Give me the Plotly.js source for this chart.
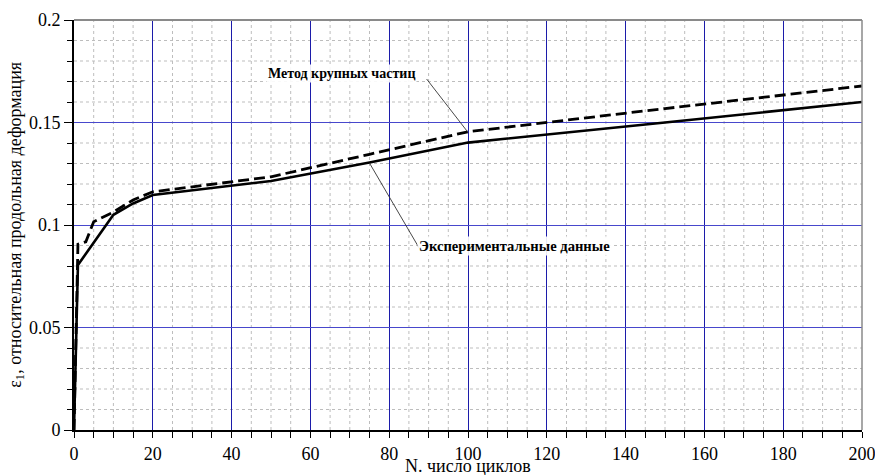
<!DOCTYPE html>
<html>
<head>
<meta charset="utf-8">
<script src="https://cdn.plot.ly/plotly-3.0.1.min.js"></script>
<style>html,body{margin:0;padding:0;background:#fff;}#chart{width:875px;height:475px;}</style>
</head>
<body>
<div id="chart"></div>
<script>
// Experimental data (solid)
const expN = [0, 1, 10, 15, 20, 50, 75, 100, 150, 200];
const expEps = [0, 0.0805, 0.105, 0.1105, 0.1146, 0.1215, 0.1305, 0.1402, 0.150, 0.160];
// Large particle method (dashed)
const lpmN = [0, 1, 3, 5, 10, 15, 20, 50, 75, 100, 150, 200];
const lpmEps = [0, 0.0906, 0.0918, 0.1016, 0.1063, 0.1122, 0.1162, 0.1235, 0.1345, 0.1455, 0.1568, 0.1678];

const xTickVals = [0, 20, 40, 60, 80, 100, 120, 140, 160, 180, 200];
const yTickVals = [0, 0.05, 0.1, 0.15, 0.2];

const labelLpm = 'Метод крупных частиц';
const labelExp = 'Экспериментальные данные';
const xTitle = 'N. число циклов';
const yTitle = 'ε<sub>1</sub>, относительная продольная деформация';

const serif = "'Liberation Serif', 'Times New Roman', 'DejaVu Serif', serif";

const traces = [
  {x: expN, y: expEps, type: 'scatter', mode: 'lines', line: {color: '#000', width: 2.6}, hoverinfo: 'skip'},
  {x: lpmN, y: lpmEps, type: 'scatter', mode: 'lines', line: {color: '#000', width: 2.8, dash: '11px,5px'}, hoverinfo: 'skip'}
];

// minor dotted grid drawn under the major grid
const minorGrid = [];
const xMinorStep = 5, yMinorStep = 0.01;
for (let i = 1; i * xMinorStep < 200; i++) {
  if (i % 4 === 0) continue;
  minorGrid.push({type: 'line', layer: 'below', xref: 'x', yref: 'paper', x0: i * xMinorStep, x1: i * xMinorStep, y0: 0, y1: 1,
    line: {color: '#bdbdbd', width: 1, dash: 'dot'}});
}
for (let j = 1; j < 20; j++) {
  if (j % 5 === 0) continue;
  const v = j * yMinorStep;
  minorGrid.push({type: 'line', layer: 'below', xref: 'paper', yref: 'y', x0: 0, x1: 1, y0: v, y1: v,
    line: {color: '#bdbdbd', width: 1, dash: 'dot'}});
}

const layout = {
  width: 875, height: 475,
  margin: {l: 74, r: 13, t: 20, b: 45},
  paper_bgcolor: '#fff', plot_bgcolor: '#fff',
  showlegend: false,
  font: {family: serif, color: '#000', size: 18},
  xaxis: {
    range: [xTickVals[0], xTickVals[xTickVals.length - 1]],
    tickmode: 'linear', tick0: xTickVals[0], dtick: xTickVals[1] - xTickVals[0],
    showgrid: true, gridcolor: '#1c1caa', gridwidth: 1,
    zeroline: false, showline: true, linecolor: '#000', linewidth: 2,
    ticks: 'outside', ticklen: 6, tickwidth: 1, tickcolor: '#000',
    ticklabeloverflow: 'allow',
    tickfont: {family: serif, size: 18, color: '#000'},
    minor: {dtick: 5, showgrid: false, ticks: 'outside', ticklen: 6, tickcolor: '#000'},
    fixedrange: true
  },
  yaxis: {
    range: [yTickVals[0], yTickVals[yTickVals.length - 1]],
    tickmode: 'linear', tick0: 0, dtick: yTickVals[1] - yTickVals[0],
    showgrid: true, gridcolor: '#4848cc', gridwidth: 1,
    zeroline: false, showline: true, linecolor: '#000', linewidth: 2,
    ticks: 'outside', ticklen: 8, tickwidth: 1, tickcolor: '#000',
    ticklabeloverflow: 'allow',
    tickfont: {family: serif, size: 18, color: '#000'},
    minor: {dtick: 0.01, showgrid: false, ticks: 'outside', ticklen: 5, tickcolor: '#000'},
    fixedrange: true
  },
  shapes: minorGrid.concat([
    {type: 'line', xref: 'paper', yref: 'paper', x0: 0, x1: 1, y0: 1, y1: 1, line: {color: '#8a8a8a', width: 2}},
    {type: 'line', xref: 'paper', yref: 'paper', x0: 1, x1: 1, y0: 0, y1: 1, line: {color: '#8a8a8a', width: 1.5}},
    {type: 'line', xref: 'x', yref: 'y', x0: 89.5, y0: 0.1712, x1: 100, y1: 0.1452, line: {color: '#333', width: 0.9}},
    {type: 'line', xref: 'x', yref: 'y', x0: 75, y0: 0.1302, x1: 88.2, y1: 0.0868, line: {color: '#333', width: 0.9}}
  ]),
  annotations: [
    {x: 67.8, y: 0.1741, xref: 'x', yref: 'y', text: '<b>' + labelLpm + '</b>', showarrow: false,
     font: {family: serif, size: 14, color: '#000'}, bgcolor: 'rgba(255,255,255,0.9)'},
    {x: 111.7, y: 0.0898, xref: 'x', yref: 'y', text: '<b>' + labelExp + '</b>', showarrow: false,
     font: {family: serif, size: 14.6, color: '#000'}, bgcolor: 'rgba(255,255,255,0.9)'},
    {x: 0.5, y: -0.088, xref: 'paper', yref: 'paper', text: xTitle, showarrow: false,
     xanchor: 'center', yanchor: 'middle', font: {family: serif, size: 18, color: '#000'}},
    {x: -0.074, y: 0.5, xref: 'paper', yref: 'paper', text: yTitle, showarrow: false, textangle: -90,
     xanchor: 'center', yanchor: 'middle', font: {family: serif, size: 18, color: '#000'}}
  ]
};

Plotly.newPlot('chart', traces, layout, {displayModeBar: false, staticPlot: true});
</script>
</body>
</html>
